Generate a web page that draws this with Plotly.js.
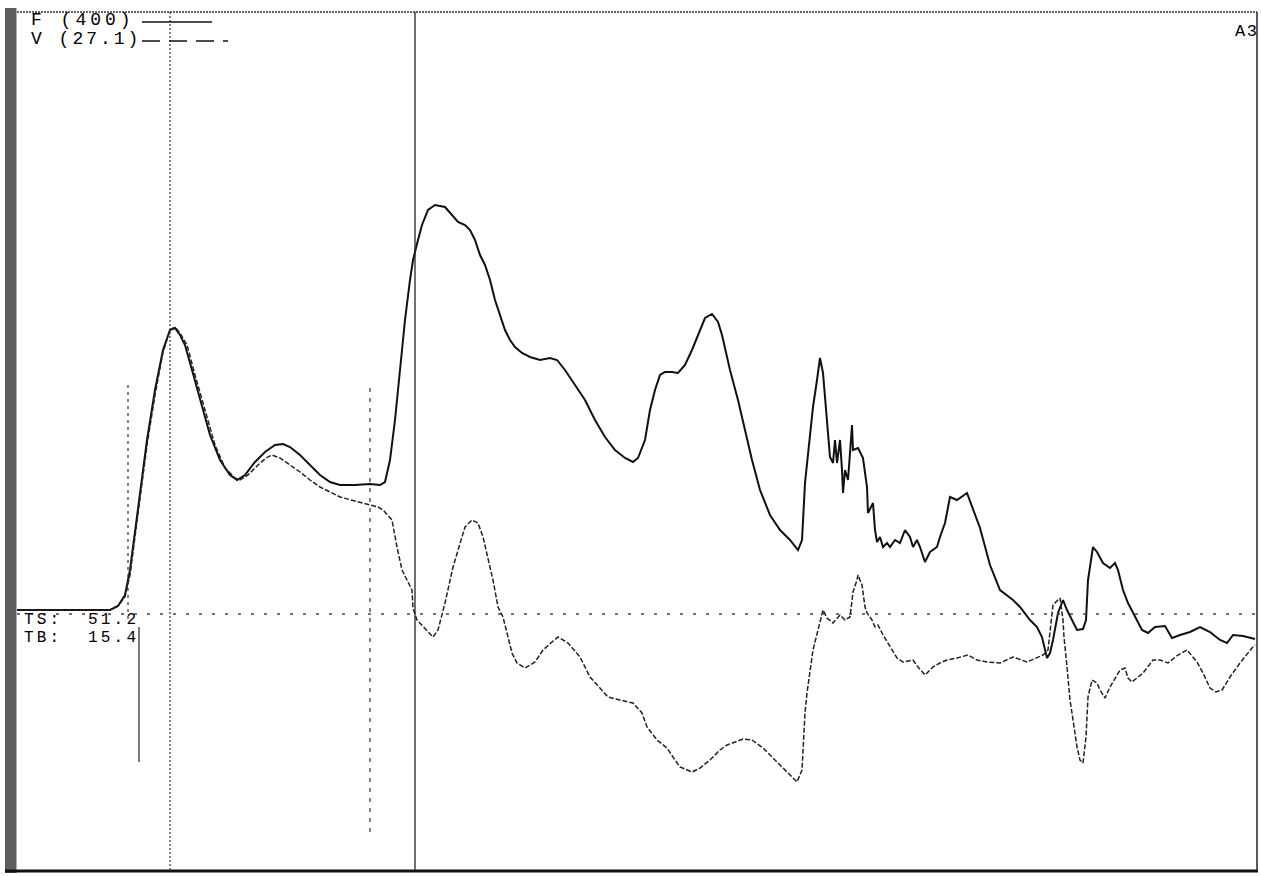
<!DOCTYPE html>
<html>
<head>
<meta charset="utf-8">
<script src="https://cdn.plot.ly/plotly-3.0.1.min.js"></script>
<style>
  html, body { margin: 0; padding: 0; background: #fff; }
  #chart { width: 1261px; height: 876px; }
</style>
</head>
<body>
<div id="chart"></div>
<script>
// Time axis (sample units) and Force / Velocity records (same display units, zero = baseline)
const tForce = [0,93,101,108,113,118,123,130,138,146,153,158,163,168,175,183,193,203,213,220,228,238,248,258,266,273,283,293,303,313,323,338,353,363,368,373,378,383,388,393,396,401,405,411,418,428,435,441,448,453,458,463,468,473,478,483,488,493,498,505,513,523,533,540,548,558,568,578,588,598,608,616,621,628,633,638,643,648,655,661,668,675,683,688,695,701,705,713,721,728,735,743,753,763,773,781,785,788,793,796,800,803,806,810,813,816,818,820,823,825,826,828,831,833,835,836,841,846,850,851,856,858,860,863,866,870,873,878,883,888,893,896,900,903,908,913,920,923,928,933,940,950,956,963,973,983,996,1003,1013,1020,1025,1030,1033,1036,1041,1046,1050,1055,1060,1066,1069,1071,1076,1080,1086,1093,1098,1101,1106,1111,1116,1120,1125,1131,1138,1148,1155,1163,1173,1183,1193,1203,1210,1216,1226,1238];
const force = [4,4,8,19,44,84,124,174,224,264,284,286,279,269,244,214,179,154,139,134,139,152,162,169,170,167,159,149,139,132,129,129,130,129,132,154,194,244,294,334,354,374,389,404,409,407,399,392,389,384,374,359,349,334,314,299,284,274,267,261,257,254,256,254,244,229,214,194,177,164,156,152,156,174,204,224,239,242,242,241,249,264,284,296,300,292,279,244,214,184,154,124,99,84,74,64,74,131,177,207,234,256,241,197,157,151,174,151,174,144,121,144,134,161,189,164,166,156,127,101,111,84,72,77,67,71,67,74,71,84,77,67,74,67,52,62,67,77,91,117,114,121,104,86,49,24,14,7,-6,-13,-23,-44,-39,-26,1,14,4,-6,-16,-15,-6,34,67,62,51,46,51,44,24,11,1,-6,-16,-19,-13,-12,-24,-21,-18,-13,-18,-26,-29,-21,-22,-25];

const tVelocity = [0,93,101,108,113,118,123,130,138,146,153,158,163,170,178,188,198,208,218,223,231,241,249,255,263,273,283,293,303,313,323,338,353,361,366,375,380,385,395,396,400,410,416,421,428,436,443,448,455,461,466,471,476,481,486,490,495,500,508,518,526,535,541,551,563,573,580,591,603,616,625,630,640,650,656,663,675,683,693,703,710,726,735,746,756,763,780,785,788,790,793,796,801,805,806,810,816,823,828,833,835,836,840,841,845,846,848,850,855,858,861,866,873,880,886,896,901,908,916,923,930,940,951,960,970,983,996,1010,1026,1031,1036,1043,1046,1047,1050,1053,1055,1060,1063,1066,1069,1071,1075,1080,1083,1088,1093,1098,1103,1108,1111,1115,1126,1136,1143,1151,1161,1170,1180,1186,1193,1199,1205,1213,1223,1235,1238];
const velocity = [4,4,8,17,39,79,119,169,219,262,284,287,281,269,239,204,169,146,136,134,139,149,156,159,156,149,142,134,127,122,117,113,109,107,104,94,67,44,24,6,-6,-16,-23,-16,11,47,71,87,94,91,77,56,34,7,-3,-19,-39,-49,-54,-48,-36,-28,-23,-29,-43,-63,-71,-83,-86,-89,-99,-113,-126,-134,-143,-153,-158,-154,-146,-136,-131,-125,-126,-134,-144,-151,-168,-156,-99,-79,-59,-36,-16,-1,4,-4,-9,-1,-6,-3,11,22,34,39,29,22,7,1,-6,-13,-11,-21,-33,-44,-48,-46,-53,-61,-53,-49,-46,-44,-41,-46,-48,-49,-43,-48,-41,-36,9,16,-6,-23,-53,-86,-99,-133,-146,-149,-123,-83,-66,-69,-76,-84,-73,-64,-56,-54,-64,-68,-59,-46,-46,-49,-41,-36,-48,-59,-74,-78,-76,-63,-49,-34,-31];

// Marker times (sample units)
const markerTimes = [111, 122, 153, 353, 398];

// Labels
const forceLabel = 'F (400)';
const velocityLabel = 'V (27.1)';
const tsLabel = 'TS:  51.2';
const tbLabel = 'TB:  15.4';
const cornerLabel = 'A3';

const X0 = 17, XW = 1240, Y0 = 870, YH = 858;
const px = v => (v - X0) / XW;
const py = v => (Y0 - v) / YH;

const traces = [
  { x: tForce, y: force, type: 'scatter', mode: 'lines', name: 'F',
    line: { color: '#111', width: 2, shape: 'linear' }, hoverinfo: 'skip' },
  { x: tVelocity, y: velocity, type: 'scatter', mode: 'lines', name: 'V',
    line: { color: '#222', width: 1.5, dash: '5px,2px' }, hoverinfo: 'skip' }
];

const shapes = [
  { type: 'rect', xref: 'paper', yref: 'paper', x0: px(5), x1: px(16.5), y0: py(873), y1: py(8),
    fillcolor: '#5e5e5e', line: { width: 0 } },
  { type: 'line', xref: 'paper', yref: 'paper', x0: px(17), x1: px(1257), y0: py(12), y1: py(12),
    line: { color: '#333', width: 1.5, dash: '2px,1px' } },
  { type: 'line', xref: 'paper', yref: 'paper', x0: px(5), x1: px(1258), y0: py(871), y1: py(871),
    line: { color: '#111', width: 3 } },
  { type: 'line', xref: 'paper', yref: 'paper', x0: px(1257), x1: px(1257), y0: py(12), y1: py(871),
    line: { color: '#222', width: 1.5 } },
  { type: 'line', xref: 'x', yref: 'y', x0: 0, x1: 1240, y0: 0, y1: 0,
    line: { color: '#444', width: 1.3, dash: '3px,10px' } },
  { type: 'line', xref: 'x', yref: 'y', x0: markerTimes[0], x1: markerTimes[0], y0: 229, y1: -6,
    line: { color: '#333', width: 1.2, dash: '3px,4px' } },
  { type: 'line', xref: 'x', yref: 'y', x0: markerTimes[1], x1: markerTimes[1], y0: -13, y1: -148,
    line: { color: '#222', width: 1.2 } },
  { type: 'line', xref: 'x', yref: 'paper', x0: markerTimes[2], x1: markerTimes[2], y0: 0, y1: 1,
    line: { color: '#333', width: 1.2, dash: '2px,2px' } },
  { type: 'line', xref: 'x', yref: 'y', x0: markerTimes[3], x1: markerTimes[3], y0: 226, y1: -224,
    line: { color: '#333', width: 1.2, dash: '4px,6px' } },
  { type: 'line', xref: 'x', yref: 'paper', x0: markerTimes[4], x1: markerTimes[4], y0: 0, y1: 1,
    line: { color: '#222', width: 1.3 } },
  { type: 'line', xref: 'paper', yref: 'paper', x0: px(142), x1: px(212), y0: py(22), y1: py(22),
    line: { color: '#111', width: 1.5 } },
  { type: 'line', xref: 'paper', yref: 'paper', x0: px(142), x1: px(228), y0: py(41), y1: py(41),
    line: { color: '#111', width: 1.5, dash: '18px,9px' } }
];

const monoFamily = 'Liberation Mono, DejaVu Sans Mono, monospace';
const ann = (text, x, y, spacing, size) => ({
  text: '<span style="letter-spacing:' + spacing + 'px">' + text + '</span>',
  xref: 'paper', yref: 'paper', x: px(x), y: py(y), xanchor: 'left', yanchor: 'middle',
  showarrow: false, font: { family: monoFamily, size: size, color: '#000' }, borderpad: 0
});

const annotations = [
  ann(forceLabel, 30, 20, 4, 18),
  ann(velocityLabel, 30, 39, 3, 18),
  ann(tsLabel, 23, 620, 3.2, 16),
  ann(tbLabel, 23, 638, 3.2, 16),
  ann(cornerLabel, 1234, 32, 1.5, 17)
];

const layout = {
  width: 1261, height: 876,
  margin: { l: 17, r: 4, t: 12, b: 6, pad: 0 },
  paper_bgcolor: '#fff', plot_bgcolor: '#fff',
  showlegend: false,
  xaxis: { range: [0, 1240], visible: false, fixedrange: true },
  yaxis: { range: [-256, 602], visible: false, fixedrange: true },
  shapes: shapes,
  annotations: annotations
};

Plotly.newPlot('chart', traces, layout, { staticPlot: true, displayModeBar: false });
</script>
</body>
</html>
